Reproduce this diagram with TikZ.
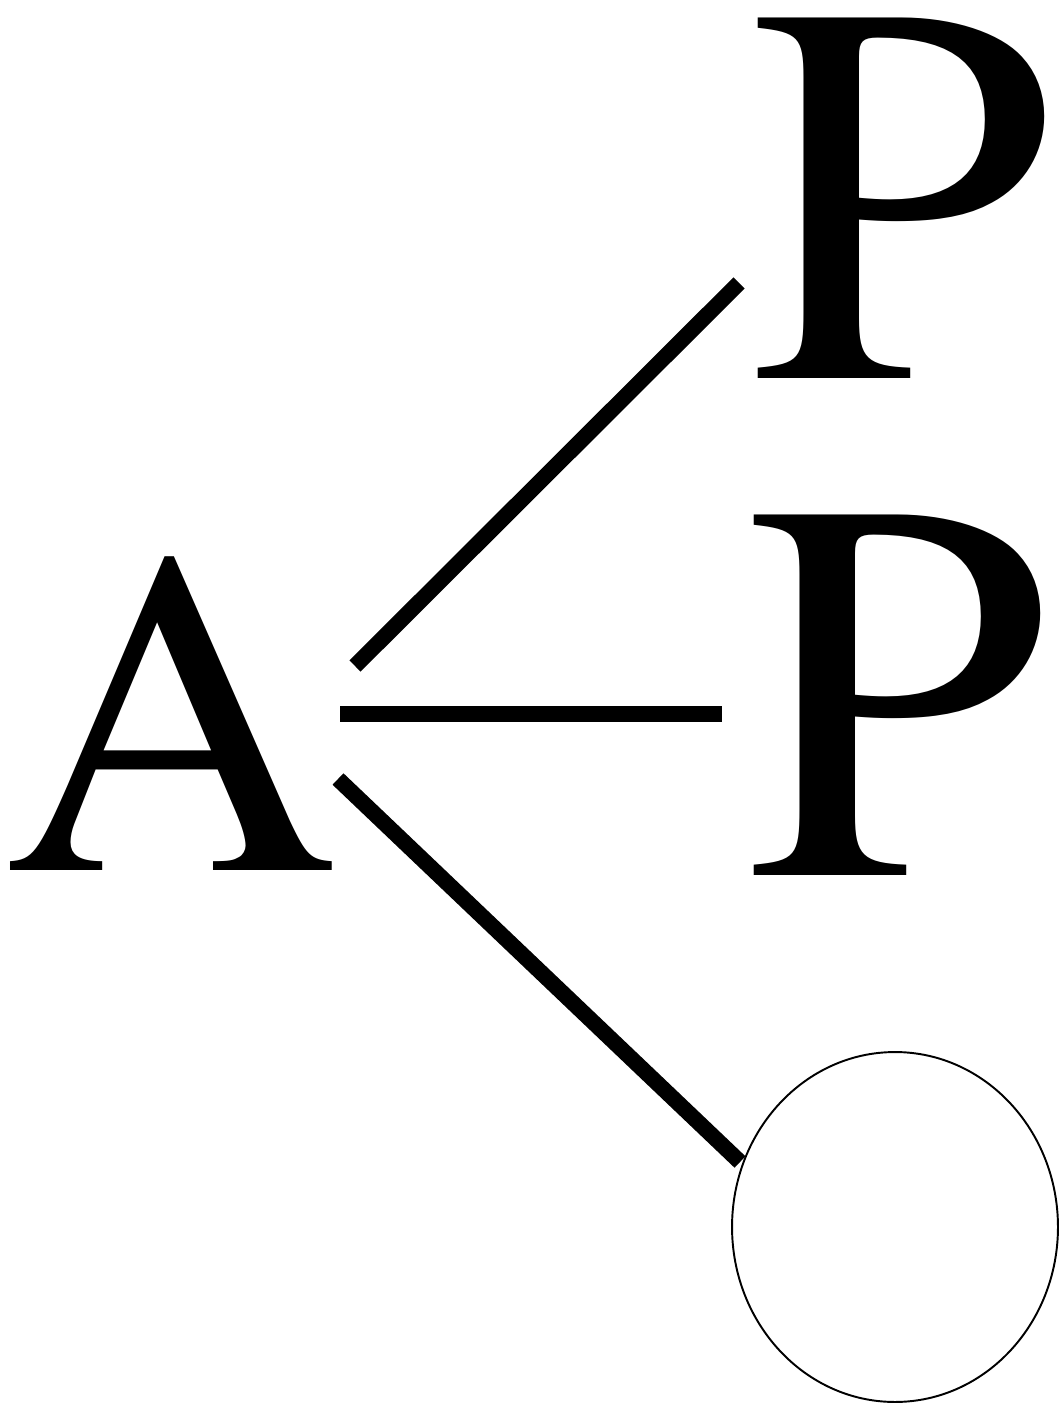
\documentclass[tikz,border=0pt]{standalone}
\usepackage{fontspec}
\setmainfont{texgyretermes-regular.otf}
\usetikzlibrary{positioning, shapes.geometric}

\begin{document}
\begin{tikzpicture}[x=0.02cm, y=-0.02cm,
  bond/.style={line width=9pt},
  atomA/.style={inner sep=0pt, anchor=base west, font=\fontsize{265}{265}\selectfont},
  atomP/.style={inner sep=0pt, anchor=base west, font=\fontsize{310}{310}\selectfont},
  ring/.style={draw, ellipse, inner sep=0pt, line width=1.1pt,
    minimum width=6.52cm, minimum height=7cm}
]
  \useasboundingbox (0,0) rectangle (1061,1405);

  % letters
  \node[atomA] (A)  at (3,870)   {A};
  \node[atomP] (P1) at (749,378) {P};
  \node[atomP] (P2) at (745,875) {P};
  \node[ring]  (O)  at (895,1227) {};

  % bond ends
  \coordinate (a1) at (355,666);
  \coordinate (b1) at (739,283);
  \coordinate (a2) at (340,714);
  \coordinate (b2) at (722,714);
  \coordinate (a3) at (338,779);
  \coordinate (b3) at (740,1162);

  \draw[bond] (a1) -- (b1);
  \draw[bond] (a2) -- (b2);
  \draw[bond] (a3) -- (b3);
\end{tikzpicture}
\end{document}
